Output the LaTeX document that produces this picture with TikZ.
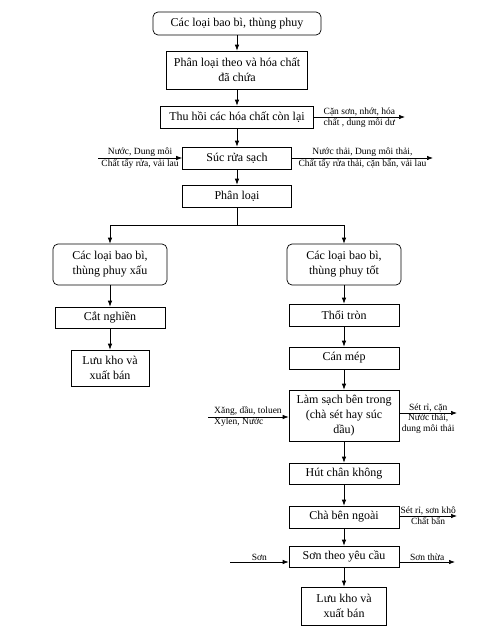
\documentclass[tikz,border=0pt]{standalone}
\usepackage{fontspec}
\setmainfont{Liberation Serif}
\usetikzlibrary{arrows.meta}

\begin{document}
\begin{tikzpicture}[x=1pt,y=-1pt,
  procbox/.style={draw, line width=0.7pt, align=center, inner sep=1pt, font=\fontsize{12}{15}\selectfont},
  roundbox/.style={procbox, rounded corners=5pt},
  sidelbl/.style={font=\fontsize{9.5}{11}\selectfont, inner sep=1pt, align=center},
  flowarr/.style={line width=0.7pt, -{Latex[length=6pt,width=4.5pt]}}]
\useasboundingbox (0,0) rectangle (491,637);

% main column
\node[roundbox, minimum width=168pt, minimum height=23pt] (b1) at (237,23.5) {Các loại bao bì, thùng phuy};
\node[procbox, minimum width=141pt, minimum height=38pt] (b2) at (237,70) {Phân loại theo và hóa chất\\đã chứa};
\node[procbox, minimum width=153pt, minimum height=22pt] (b3) at (237,117) {Thu hồi các hóa chất còn lại};
\node[procbox, minimum width=109pt, minimum height=22pt] (b4) at (237,158) {Súc rửa sạch};
\node[procbox, minimum width=109pt, minimum height=22pt] (b5) at (237,196) {Phân loại};

% left branch
\node[roundbox, minimum width=114pt, minimum height=41pt] (b6) at (110,264.5) {Các loại bao bì,\\thùng phuy xấu};
\node[procbox, minimum width=110pt, minimum height=21pt] (b8) at (110,317.5) {Cắt nghiền};
\node[procbox, minimum width=78pt, minimum height=36pt] (b9) at (110,368) {Lưu kho và\\xuất bán};

% right branch
\node[roundbox, minimum width=114pt, minimum height=41pt] (b7) at (344,264.5) {Các loại bao bì,\\thùng phuy tốt};
\node[procbox, minimum width=110pt, minimum height=22pt] (b10) at (344,315) {Thổi tròn};
\node[procbox, minimum width=110pt, minimum height=22pt] (b11) at (344,358) {Cán mép};
\node[procbox, minimum width=110pt, minimum height=51pt] (b12) at (344,415.5) {Làm sạch bên trong\\(chà sét hay súc\\dầu)};
\node[procbox, minimum width=110pt, minimum height=21pt] (b13) at (344,473.5) {Hút chân không};
\node[procbox, minimum width=110pt, minimum height=22pt] (b14) at (344,517) {Chà bên ngoài};
\node[procbox, minimum width=110pt, minimum height=21pt] (b15) at (344,556.5) {Sơn theo yêu cầu};
\node[procbox, minimum width=85pt, minimum height=38pt] (b16) at (344,606) {Lưu kho và\\xuất bán};

\coordinate (j) at (237,225);
\coordinate (o3) at (405,117);
\coordinate (i4) at (98,158);
\coordinate (o4) at (433,158);
\coordinate (i12) at (208,417);
\coordinate (o12) at (457,413);
\coordinate (o14) at (457,516);
\coordinate (i15) at (230,562);
\coordinate (o15) at (455,562);

\draw[flowarr] (b1.south) -- (b2.north);
\draw[flowarr] (b2.south) -- (b3.north);
\draw[flowarr] (b3.south) -- (b4.north);
\draw[flowarr] (b4.south) -- (b5.north);
\draw[line width=0.7pt] (b5.south) -- (j);
\draw[flowarr] (j) -| (b6.north);
\draw[flowarr] (j) -| (b7.north);
\draw[flowarr] (b6.south) -- (b8.north);
\draw[flowarr] (b8.south) -- (b9.north);
\draw[flowarr] (b7.south) -- (b10.north);
\draw[flowarr] (b10.south) -- (b11.north);
\draw[flowarr] (b11.south) -- (b12.north);
\draw[flowarr] (b12.south) -- (b13.north);
\draw[flowarr] (b13.south) -- (b14.north);
\draw[flowarr] (b14.south) -- (b15.north);
\draw[flowarr] (b15.south) -- (b16.north);

% side streams
\draw[flowarr] (b3.east) -- (o3)
  node[midway, above, sidelbl] (l3a) {Cặn sơn, nhớt, hóa}
  node[midway, below, sidelbl] (l3b) {chất , dung môi dư};
\draw[flowarr] (i4) -- (b4.west)
  node[midway, above, sidelbl] (l4a) {Nước, Dung môi}
  node[midway, below, sidelbl] (l4b) {Chất tẩy rửa, vải lau};
\draw[flowarr] (b4.east) -- (o4)
  node[midway, above, sidelbl] (l4c) {Nước thải, Dung môi thải,}
  node[midway, below, sidelbl] (l4d) {Chất tẩy rửa thải, cặn bẩn, vải lau};
\draw[flowarr] (i12) -- (i12 -| b12.west);
\node[sidelbl, anchor=south west] (l12a) at (213,417) {Xăng, dầu, toluen};
\node[sidelbl, anchor=north west] (l12b) at (213,417) {Xylen, Nước};
\draw[flowarr] (b12.east |- o12) -- (o12)
  node[midway, above, sidelbl] (l12c) {Sét rỉ, cặn}
  node[midway, below, sidelbl] (l12d) {Nước thải,\\dung môi thải};
\draw[flowarr] (b14.east |- o14) -- (o14)
  node[midway, above, sidelbl] (l14a) {Sét rỉ, sơn khô}
  node[midway, below, sidelbl] (l14b) {Chất bẩn};
\draw[flowarr] (i15) -- (i15 -| b15.west)
  node[midway, above, sidelbl] (l15a) {Sơn};
\draw[flowarr] (o15 -| b15.east) -- (o15)
  node[midway, above, sidelbl] (l15b) {Sơn thừa};
\end{tikzpicture}
\end{document}
